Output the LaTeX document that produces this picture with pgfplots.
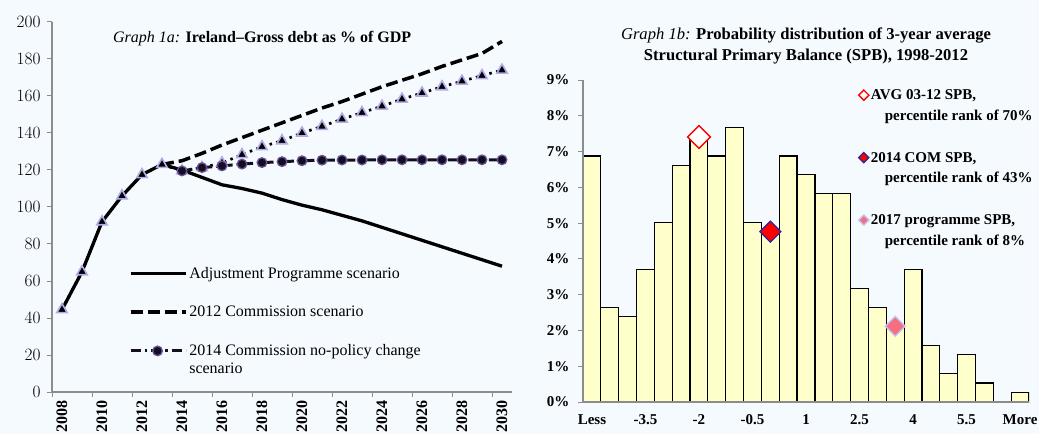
\documentclass[border=0pt]{standalone}
\usepackage{fontspec}
\setmainfont{Liberation Serif}
\usepackage{pgfplots}
\pgfplotsset{compat=1.18}
\definecolor{bg}{RGB}{245,250,255}
\definecolor{axgray}{RGB}{140,140,140}
\definecolor{baryellow}{RGB}{255,255,204}
\definecolor{lav}{RGB}{180,170,230}
\definecolor{purp}{RGB}{105,80,155}
\definecolor{darkc}{RGB}{20,15,30}
\definecolor{navy}{RGB}{40,40,150}
\definecolor{pinkm}{RGB}{245,110,130}
\definecolor{lavm}{RGB}{195,195,240}
\begin{document}
\begin{tikzpicture}[x=1pt,y=1pt]
\path[use as bounding box, fill=bg] (0,0) rectangle (1039,434);
% ---------------- Graph 1a
\begin{axis}[
  at={(52pt,42pt)}, anchor=south west,
  width=460pt, height=370pt, scale only axis,
  xmin=-0.5, xmax=22.5, ymin=0, ymax=200,
  axis lines=left, axis line style={axgray, line width=1.6pt, -},
  tick align=outside, major tick length=5pt, minor tick length=5pt,
  ytick={0,20,...,200},
  ytick style={draw=axgray, line width=1pt},
  xtick={0,2,...,22},
  xticklabels={2008,2010,2012,2014,2016,2018,2020,2022,2024,2026,2028,2030},
  major x tick style={draw=none},
  minor xtick={-0.5,1.5,...,21.5},
  minor x tick style={draw=axgray, line width=1pt},
  xticklabel style={rotate=90, anchor=east, font=\fontsize{16}{18}\selectfont\bfseries},
  yticklabel style={xshift=-3pt, font=\fontsize{16}{18}\selectfont\bfseries},
  title={\textit{Graph 1a:} \textbf{Ireland\textendash Gross debt as \% of GDP}},
  title style={at={(0.457,0.938)}, anchor=center, font=\fontsize{16}{18}\selectfont},
  legend style={at={(0.16,0.349)}, anchor=north west, draw=none, fill=none,
    font=\fontsize{16}{18}\selectfont, row sep=22.5pt, cells={anchor=base west}},
  legend image code/.code={\draw[mark repeat=2,mark phase=2,#1] plot coordinates {(0pt,5pt) (27pt,5pt) (55pt,5pt)};},
]
\addplot[black, line width=3.3pt] coordinates {
 (0,44.5) (1,65) (2,92) (3,106) (4,117.5) (5,123) (6,120) (7,116) (8,112) (9,110)
 (10,107.5) (11,104) (12,101) (13,98.5) (14,95.5) (15,92.5) (16,89) (17,85.5)
 (18,82) (19,78.5) (20,75) (21,71.5) (22,68)};
\addlegendentry{Adjustment Programme scenario}
\addplot[black, line width=3.5pt, dash pattern=on 12pt off 5pt] coordinates {
 (5,123) (6,125) (7,129) (8,133.5) (9,137.5) (10,141.5) (11,145.5) (12,149.5)
 (13,153.5) (14,157) (15,161) (16,165) (17,168.5) (18,172) (19,176) (20,179.5)
 (21,183) (22,189.5)};
\addlegendentry{2012 Commission scenario}
\addplot[forget plot, black, line width=2.7pt, dash pattern=on 2.5pt off 4.5pt,
  mark=triangle*, mark size=6pt, mark options={solid, fill=black, draw=lav, line width=1.6pt}] coordinates {
 (0,44.5) (1,65) (2,92) (3,106) (4,117.5) (5,123) (6,119.5) (7,121.3) (8,123.8) (9,128.3)
 (10,132.6) (11,135.8) (12,140) (13,143.6) (14,147.5) (15,151) (16,154.5) (17,158.3)
 (18,161.6) (19,165) (20,168) (21,171) (22,174)};
\addplot[darkc, line width=3pt, dash pattern=on 10pt off 4pt on 2.5pt off 4pt,
  mark=*, mark size=4.8pt, mark options={solid, fill=darkc, draw=purp, line width=1.3pt}] coordinates {
 (6,119.5) (7,121.3) (8,122.2) (9,123.2) (10,124) (11,124.5) (12,125) (13,125.3)
 (14,125.4) (15,125.4) (16,125.5) (17,125.5) (18,125.5) (19,125.5) (20,125.5) (21,125.5) (22,125.5)};
\addlegendentry{\vtop{\hbox{2014 Commission no-policy change}\hbox{scenario}}}
\end{axis}
% ---------------- Graph 1b
\begin{axis}[
  at={(583pt,32pt)}, anchor=south west,
  width=446pt, height=322pt, scale only axis,
  xmin=0.5, xmax=25.5, ymin=0, ymax=9,
  axis on top,
  axis lines=left, axis line style={axgray, line width=2pt, -},
  tick align=outside, major tick length=5pt,
  ytick={0,1,...,9},
  yticklabels={0\%,1\%,2\%,3\%,4\%,5\%,6\%,7\%,8\%,9\%},
  ytick style={draw=axgray, line width=1pt},
  xtick={1,4,7,10,13,16,19,22,25},
  xticklabels={Less,-3.5,-2,-0.5,1,2.5,4,5.5,More},
  major x tick style={draw=none},
  xticklabel style={yshift=-4pt, font=\fontsize{15}{17}\selectfont\bfseries},
  yticklabel style={xshift=-5pt, font=\fontsize{15}{17}\selectfont\bfseries},
  title={\textit{Graph 1b:} \textbf{Probability distribution of 3-year average}\\\textbf{Structural Primary Balance (SPB), 1998-2012}},
  title style={align=center, at={(0.5,1)}, anchor=south, yshift=6pt, font=\fontsize{16.6}{21}\selectfont},
  legend style={at={(0.611,0.983)}, anchor=north west, draw=none, fill=none,
    font=\fontsize{15}{20.5}\selectfont\bfseries, row sep=47pt, cells={anchor=base west}},
  legend image code/.code={\draw[#1, mark size=3.6pt] plot coordinates {(0pt,4.5pt)};},
]
\addplot[ybar, bar width=1, fill=baryellow, draw=black, line width=1.2pt, forget plot] coordinates {
 (1,6.878) (2,2.646) (3,2.381) (4,3.704) (5,5.026) (6,6.614) (7,7.407) (8,6.878)
 (9,7.672) (10,5.026) (11,4.762) (12,6.878) (13,6.349) (14,5.820) (15,5.820)
 (16,3.175) (17,2.646) (18,2.116) (19,3.704) (20,1.587) (21,0.794) (22,1.323)
 (23,0.529) (24,0) (25,0.265)};
\addplot[only marks, mark=square*, mark size=8pt,
  mark options={rotate=45, fill=white, draw=red, line width=1.4pt}] coordinates {(7,7.407)};
\addlegendentry{\vtop{\hbox{AVG 03-12 SPB,}\hbox{\hspace{14pt}percentile rank of 70\%}}}
\addplot[only marks, mark=square*, mark size=7.4pt,
  mark options={rotate=45, fill=red, draw=navy, line width=1.2pt}] coordinates {(11,4.762)};
\addlegendentry{\vtop{\hbox{2014 COM SPB,}\hbox{\hspace{14pt}percentile rank of 43\%}}}
\addplot[only marks, mark=square*, mark size=7pt,
  mark options={rotate=45, fill=pinkm, draw=lavm, line width=1.4pt}] coordinates {(18,2.116)};
\addlegendentry{\vtop{\hbox{2017 programme SPB,}\hbox{\hspace{14pt}percentile rank of 8\%}}}
\end{axis}
\end{tikzpicture}
\end{document}
